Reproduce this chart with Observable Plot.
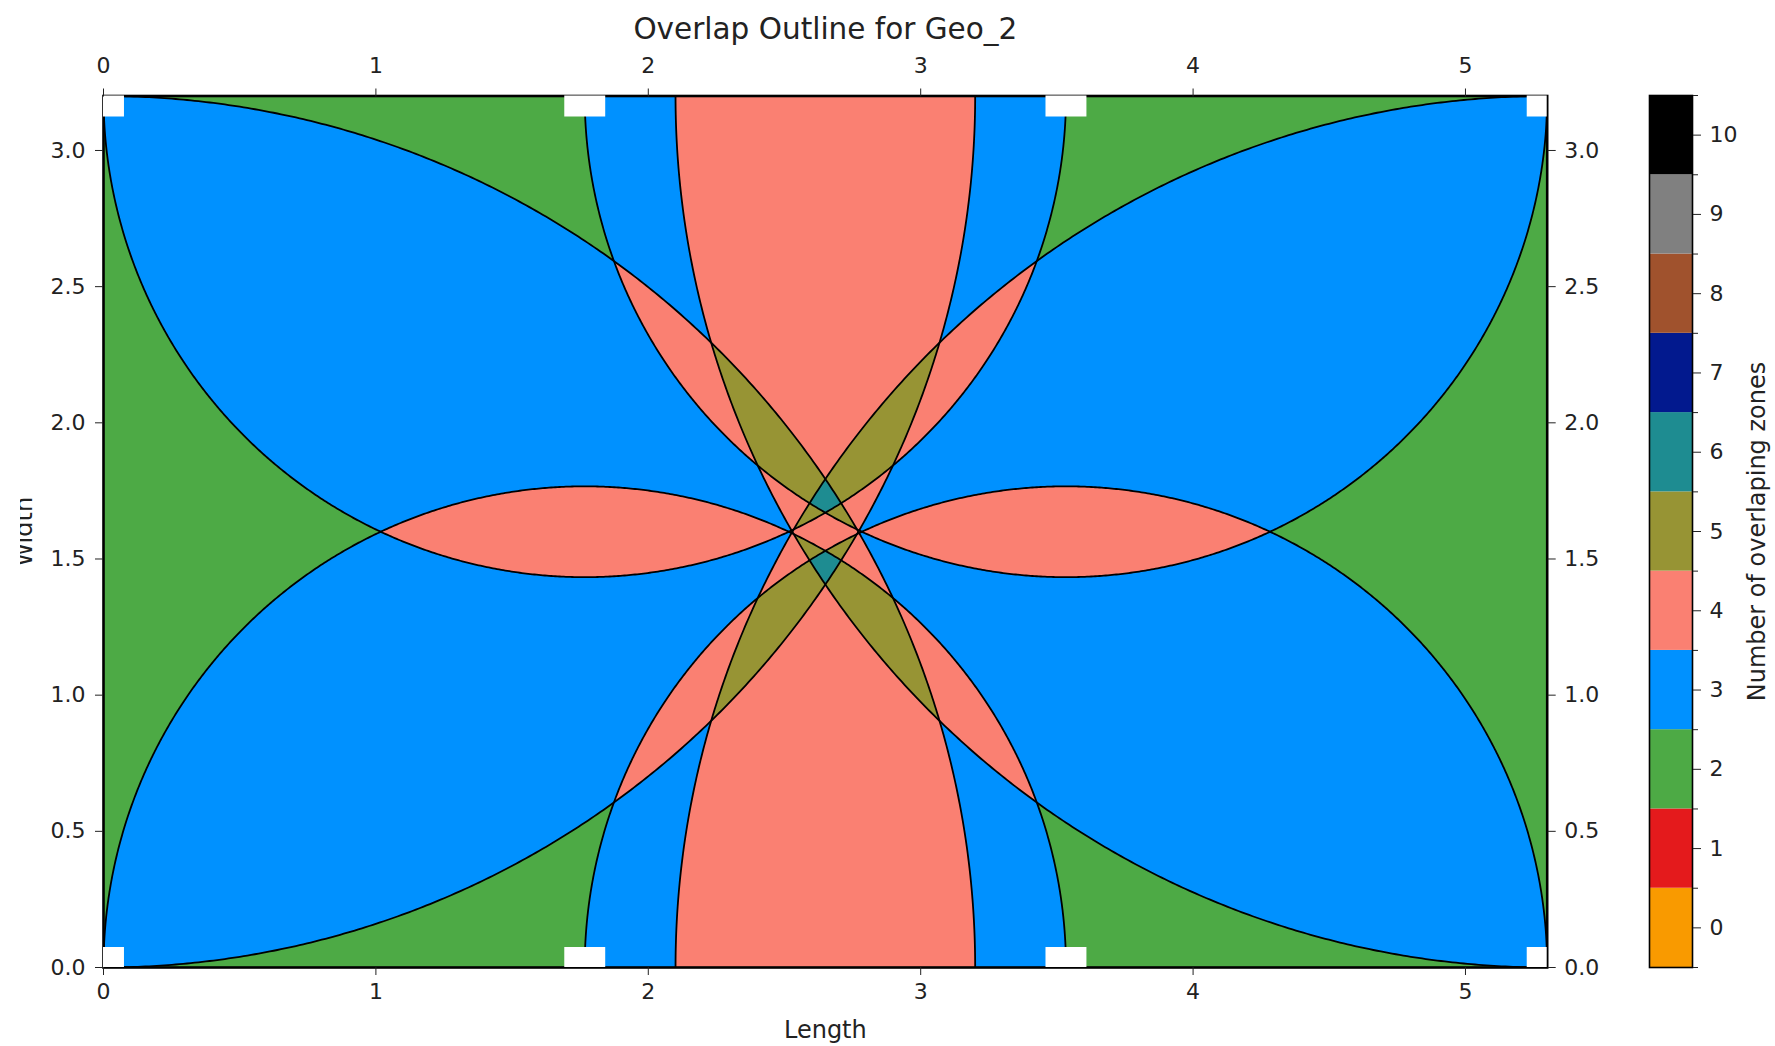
<!DOCTYPE html>
<html>
<head>
<meta charset="utf-8">
<script src="https://cdn.jsdelivr.net/npm/d3@7"></script>
<script src="https://cdn.jsdelivr.net/npm/@observablehq/plot@0.6"></script>
<style>
  body { margin: 0; background: #fff; }
  #wrap { position: relative; width: 1775px; height: 1046px; overflow: hidden; font-family: "DejaVu Sans", sans-serif; }
  #main { position: absolute; left: 0; top: 0; }
  #cbar { position: absolute; left: 1600px; top: 0; }
  #mask { position: absolute; left: 0; top: 0; width: 20px; height: 1046px; background: #fff; }
</style>
</head>
<body>
<div id="wrap"><div id="main"></div><div id="cbar"></div><div id="mask"></div></div>
<script>
// ---- data ----
const titleText = "Overlap Outline for Geo_2";
const xLabel = "Length";
const yLabel = "Width";
const colorbarLabel = "Number of overlaping zones";

const plateLength = 5.3;
const plateWidth = 3.2;

// zone centres and radii (8 zones)
const zoneX = [0, 1.7667, 3.5333, 5.3, 0, 1.7667, 3.5333, 5.3];
const zoneY = [0, 0, 0, 0, 3.2, 3.2, 3.2, 3.2];
const zoneR = [3.2, 1.7667, 1.7667, 3.2, 3.2, 1.7667, 1.7667, 3.2];

const countLevels = [0, 1, 2, 3, 4, 5, 6, 7, 8, 9, 10];
const countColors = ["#f99a00", "#e41a1c", "#4daa45", "#0091ff", "#fa8072",
                     "#979434", "#1e8c91", "#02198e", "#a0522d", "#808080", "#000000"];
const countBounds = [-0.5, 0.5, 1.5, 2.5, 3.5, 4.5, 5.5, 6.5, 7.5, 8.5, 9.5, 10.5];

const xTicks = [0, 1, 2, 3, 4, 5];
const yTicks = [0, 0.5, 1.0, 1.5, 2.0, 2.5, 3.0];

// ---- derived ----
const zones = zoneX.map((x, i) => ({id: i, x, y: zoneY[i], r: zoneR[i]}));
const countAt = (x, y) => {
  let n = 0;
  for (const z of zones) { const dx = x - z.x, dy = y - z.y; if (dx * dx + dy * dy <= z.r * z.r) n++; }
  return n;
};
const outline = zones.flatMap(z => d3.range(0, 1441).map(k => {
  const t = k * Math.PI / 720;
  return {id: z.id, x: z.x + z.r * Math.cos(t), y: z.y + z.r * Math.sin(t)};
}));

const colorScale = {type: "ordinal", domain: countLevels, range: countColors};
const TICK_FS = 22, LABEL_FS = 24, TITLE_FS = 29.5, INK = "#222";

const main = Plot.plot({
  width: 1775, height: 1046,
  marginLeft: 103, marginRight: 228.3, marginTop: 95.5, marginBottom: 79,
  style: {fontFamily: "DejaVu Sans", background: "transparent"},
  x: {domain: [0, plateLength]},
  y: {domain: [0, plateWidth]},
  color: colorScale,
  marks: [
    Plot.raster({x1: 0, x2: plateLength, y1: 0, y2: plateWidth, fill: countAt, pixelSize: 1, imageRendering: "pixelated"}),
    Plot.line(outline, {x: "x", y: "y", z: "id", stroke: "black", strokeWidth: 1.8, clip: true}),
    Plot.frame({stroke: "black", strokeWidth: 2.6}),
    Plot.dot(zones, {x: "x", y: "y", symbol: "square", r: 23.1, fill: "white", clip: true}),
    Plot.axisX({anchor: "bottom", ticks: xTicks, tickFormat: d3.format("d"), tickSize: 8, tickPadding: 8, fontSize: TICK_FS, color: INK, label: null}),
    Plot.axisX({anchor: "top", ticks: xTicks, tickFormat: d3.format("d"), tickSize: 8, tickPadding: 15, fontSize: TICK_FS, color: INK, label: null}),
    Plot.axisY({anchor: "left", ticks: yTicks, tickFormat: d3.format(".1f"), tickSize: 8, tickPadding: 10, fontSize: TICK_FS, color: INK, label: null}),
    Plot.axisY({anchor: "right", ticks: yTicks, tickFormat: d3.format(".1f"), tickSize: 8, tickPadding: 9, fontSize: TICK_FS, color: INK, label: null}),
    Plot.text([titleText], {frameAnchor: "top", textAnchor: "middle", lineAnchor: "bottom", dy: -57, fontSize: TITLE_FS, fill: INK}),
    Plot.text([xLabel], {frameAnchor: "bottom", textAnchor: "middle", lineAnchor: "bottom", dy: 70, fontSize: LABEL_FS, fill: INK}),
    Plot.text([yLabel], {frameAnchor: "left", textAnchor: "middle", lineAnchor: "bottom", rotate: -90, dx: -72, fontSize: LABEL_FS, fill: INK})
  ]
});
document.getElementById("main").append(main);

const cbar = Plot.plot({
  width: 175, height: 1046,
  marginLeft: 49, marginRight: 83, marginTop: 95, marginBottom: 79,
  style: {fontFamily: "DejaVu Sans", background: "transparent"},
  y: {domain: [-0.5, 10.5]},
  color: colorScale,
  marks: [
    Plot.rect(countLevels, {y1: d => d - 0.5, y2: d => d + 0.5, fill: d => d}),
    Plot.frame({stroke: "black", strokeWidth: 1.6}),
    Plot.axisY({anchor: "right", ticks: countBounds, tickFormat: () => "", tickSize: 5, label: null, color: INK}),
    Plot.axisY({anchor: "right", ticks: countLevels, tickFormat: d3.format("d"), tickSize: 8, tickPadding: 9, fontSize: TICK_FS, color: INK, label: null}),
    Plot.text([colorbarLabel], {frameAnchor: "right", textAnchor: "middle", rotate: -90, dx: 65, fontSize: LABEL_FS, fill: INK})
  ]
});
document.getElementById("cbar").append(cbar);
</script>
</body>
</html>
